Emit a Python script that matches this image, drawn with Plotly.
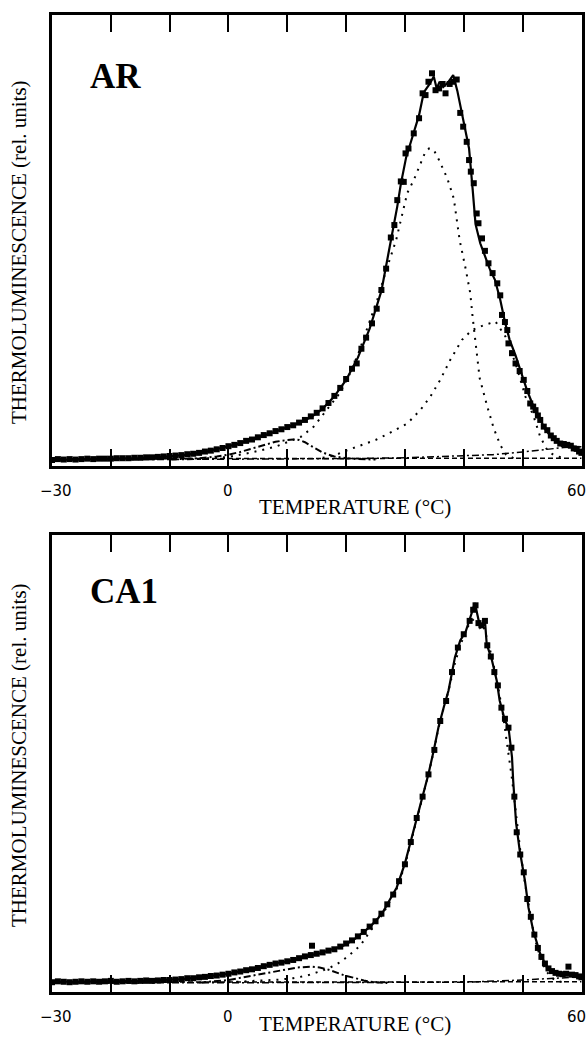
import plotly.graph_objects as go

# ---------------- AR sample ----------------
ar_meas_t = [-30, -29, -28, -27, -26, -25, -24, -23, -22, -21, -20, -19, -18, -17, -16, -15, -14, -13, -12, -11,
             -10, -9, -8, -7, -6, -5, -4, -3, -2, -1, 0, 1, 2, 3, 4, 5, 6, 7, 8, 9, 10, 11, 12, 13, 14, 15, 16,
             17, 18, 19, 20, 21, 21.8, 22.6, 23.4, 24.4, 25.2, 26, 26.8, 27.6, 28.2, 28.7, 29.3, 29.8, 30.1,
             30.6, 31.5, 32.4, 33, 33.5, 34, 34.6, 35.2, 35.8, 36.4, 36.9, 37.6, 38.2, 38.8, 39.4, 39.9, 40.5,
             40.9, 41.2, 41.7, 42.2, 42.5, 43.1, 43.6, 44.2, 44.9, 45.7, 46.2, 46.5, 47, 47.4, 47.6, 48.2, 48.8,
             49.5, 50.2, 50.8, 51.3, 51.8, 52.2, 52.6, 53, 53.6, 54.2, 54.8, 55.3, 55.8, 56.4, 57, 57.6, 58.2,
             58.7, 59.2, 59.6, 60]
ar_meas_v = [0.0, 0.002, 0.001, 0.002, 0.001, 0.002, 0.003, 0.002, 0.003, 0.003, 0.003, 0.004, 0.004, 0.004,
             0.005, 0.005, 0.006, 0.006, 0.007, 0.008, 0.009, 0.010, 0.011, 0.013, 0.014, 0.016, 0.019, 0.021,
             0.024, 0.027, 0.031, 0.034, 0.038, 0.043, 0.046, 0.051, 0.056, 0.060, 0.065, 0.069, 0.074, 0.078,
             0.084, 0.090, 0.098, 0.106, 0.116, 0.128, 0.144, 0.162, 0.182, 0.205, 0.217, 0.250, 0.275, 0.307,
             0.340, 0.382, 0.430, 0.500, 0.528, 0.584, 0.626, 0.625, 0.689, 0.700, 0.734, 0.768, 0.824, 0.820,
             0.850, 0.869, 0.831, 0.835, 0.845, 0.824, 0.845, 0.850, 0.855, 0.780, 0.749, 0.715, 0.674, 0.648,
             0.622, 0.554, 0.532, 0.498, 0.470, 0.442, 0.420, 0.397, 0.370, 0.326, 0.310, 0.292, 0.262, 0.240,
             0.217, 0.200, 0.180, 0.155, 0.127, 0.120, 0.112, 0.100, 0.090, 0.075, 0.067, 0.055, 0.049, 0.043,
             0.037, 0.036, 0.034, 0.032, 0.026, 0.025, 0.019, 0.016]

ar_fit_t = [-30, -25, -20, -15, -10, -7, -4, -2, 0, 2, 4, 6, 8, 10, 12, 14, 16, 18, 20, 22, 24, 26, 27.6, 28.7,
            29.3, 30.2, 31.5, 32.4, 33.2, 34.2, 34.9, 35.4, 35.9, 36.5, 37.3, 38.2, 38.9, 39.5, 40.2, 40.9,
            41.5, 42.0, 42.8, 43.6, 44.4, 45.3, 46.2, 47.0, 47.8, 48.8, 49.8, 50.8, 51.8, 52.8, 53.8, 54.8,
            55.8, 56.8, 57.8, 58.8, 59.8, 60.1]
ar_fit_v = [0.0, 0.001, 0.002, 0.004, 0.008, 0.012, 0.018, 0.024, 0.031, 0.038, 0.046, 0.055, 0.064, 0.073,
            0.083, 0.096, 0.115, 0.143, 0.180, 0.230, 0.295, 0.380, 0.490, 0.570, 0.620, 0.680, 0.736, 0.775,
            0.826, 0.845, 0.862, 0.835, 0.850, 0.838, 0.848, 0.865, 0.830, 0.790, 0.750, 0.700, 0.610, 0.530,
            0.487, 0.460, 0.430, 0.405, 0.360, 0.310, 0.270, 0.235, 0.195, 0.155, 0.122, 0.095, 0.070, 0.053,
            0.042, 0.037, 0.033, 0.029, 0.016, 0.012]

# resolved glow peaks
ar_p1_t = [-10, -5, -2, 0, 2, 4, 6, 8, 10, 11, 12, 13, 14, 15, 16, 17, 18, 20, 22, 25]
ar_p1_v = [0.001, 0.004, 0.008, 0.012, 0.018, 0.026, 0.034, 0.041, 0.045, 0.046, 0.045, 0.040, 0.032, 0.024,
           0.017, 0.012, 0.008, 0.004, 0.002, 0.001]

ar_p2_t = [-5, 0, 4, 8, 10, 12.3, 14.5, 16.2, 18.9, 20.5, 22.1, 23.7, 25.3, 26.9, 28.5, 29.5, 30.4, 31.5, 32.6,
           33.4, 34.1, 34.9, 35.8, 36.6, 37.2, 38.3, 39.3, 40.3, 41.1, 41.5, 42.0, 42.7, 44.0, 45.1, 46.2,
           47.2, 48.5]
ar_p2_v = [0.002, 0.007, 0.017, 0.030, 0.040, 0.052, 0.075, 0.105, 0.150, 0.190, 0.240, 0.300, 0.360, 0.430,
           0.494, 0.550, 0.600, 0.629, 0.667, 0.690, 0.700, 0.697, 0.674, 0.652, 0.633, 0.588, 0.494, 0.431,
           0.375, 0.322, 0.262, 0.184, 0.120, 0.071, 0.034, 0.012, 0.004]

ar_p3_t = [16, 18, 19.6, 22, 25, 27, 29.3, 30.4, 32.6, 34.3, 36, 37.7, 39.7, 41.4, 43.4, 45.4, 47.1, 48.8,
           50.5, 51.9, 53, 54.2, 55.3, 57]
ar_p3_v = [0.005, 0.010, 0.019, 0.030, 0.045, 0.058, 0.075, 0.082, 0.112, 0.142, 0.180, 0.225, 0.270, 0.292,
           0.303, 0.311, 0.277, 0.217, 0.142, 0.097, 0.052, 0.022, 0.011, 0.004]

ar_p4_t = [-30, 0, 10, 20, 30, 40, 45, 50, 54, 57, 60]
ar_p4_v = [0.0, 0.001, 0.002, 0.003, 0.005, 0.009, 0.012, 0.018, 0.024, 0.028, 0.030]

ar_base_t = [-30, 60]
ar_base_v = [0.003, 0.004]

# ---------------- CA1 sample ----------------
ca_meas_t = [-30, -29, -28, -27, -26, -25, -24, -23, -22, -21, -20, -19, -18, -17, -16, -15, -14, -13, -12, -11,
             -10, -9, -8, -7, -6, -5, -4, -3, -2, -1, 0, 1, 2, 3, 4, 5, 6, 7, 8, 9, 10, 11, 12, 13, 14, 14.2,
             15, 16, 17, 18, 19, 20, 21, 22, 23, 24, 25, 26, 27, 28, 29, 30, 31, 32, 33, 34, 35, 36, 37, 38,
             39, 40, 41, 41.6, 42, 42.5, 43, 43.6, 44, 44.6, 45.2, 45.8, 46.4, 47, 47.6, 48.1, 48.6, 49, 49.6,
             50.2, 50.8, 51.4, 52, 52.6, 53.2, 53.8, 54.4, 55, 55.6, 56.2, 56.8, 57.4, 57.8, 58.4, 59, 59.6, 60]
ca_meas_v = [0.003, 0.005, 0.004, 0.003, 0.004, 0.005, 0.004, 0.005, 0.004, 0.005, 0.006, 0.004, 0.005, 0.006,
             0.005, 0.006, 0.007, 0.006, 0.007, 0.008, 0.008, 0.009, 0.010, 0.012, 0.012, 0.014, 0.015, 0.017,
             0.018, 0.020, 0.022, 0.025, 0.027, 0.030, 0.032, 0.035, 0.039, 0.042, 0.045, 0.047, 0.050, 0.053,
             0.057, 0.061, 0.064, 0.085, 0.067, 0.070, 0.074, 0.077, 0.083, 0.090, 0.097, 0.106, 0.116, 0.128,
             0.140, 0.157, 0.178, 0.200, 0.230, 0.268, 0.318, 0.372, 0.420, 0.470, 0.525, 0.590, 0.635, 0.700,
             0.755, 0.785, 0.815, 0.840, 0.850, 0.810, 0.805, 0.815, 0.760, 0.735, 0.700, 0.670, 0.620, 0.595,
             0.575, 0.530, 0.420, 0.340, 0.290, 0.250, 0.190, 0.150, 0.110, 0.080, 0.060, 0.045, 0.034, 0.028,
             0.024, 0.022, 0.021, 0.022, 0.038, 0.020, 0.019, 0.016, 0.014]

ca_fit_t = [-30, -25, -20, -15, -10, -8, -5, -2, 0, 3, 5.6, 7.1, 10.1, 11.7, 14, 15.6, 17.2, 18.5, 19.5, 21.3,
            22.7, 24.1, 25.5, 26.4, 27.5, 28.6, 30, 31, 32, 33, 34, 34.9, 35.7, 36.6, 37.4, 38.5, 39.4, 40.3,
            40.8, 41.4, 41.9, 42.3, 42.8, 43.3, 43.6, 43.9, 44.8, 45.6, 46.1, 47, 47.6, 48.2, 48.4, 48.9, 49.5,
            50.4, 51, 51.8, 53, 54.1, 55.8, 58.1, 59.8, 60.1]
ca_fit_v = [0.004, 0.004, 0.005, 0.006, 0.008, 0.010, 0.014, 0.018, 0.022, 0.030, 0.037, 0.044, 0.050, 0.055,
            0.064, 0.068, 0.075, 0.079, 0.085, 0.098, 0.112, 0.128, 0.148, 0.164, 0.190, 0.216, 0.270, 0.320,
            0.370, 0.420, 0.471, 0.524, 0.576, 0.621, 0.658, 0.733, 0.771, 0.790, 0.812, 0.835, 0.855, 0.830,
            0.800, 0.805, 0.816, 0.763, 0.726, 0.681, 0.636, 0.591, 0.576, 0.509, 0.456, 0.360, 0.300, 0.231,
            0.171, 0.119, 0.067, 0.037, 0.022, 0.020, 0.014, 0.013]

ca_p1_t = [-5, 0, 5, 8.8, 11.7, 14, 15.5, 16.8, 18.5, 20, 21.3, 23, 24.7, 27]
ca_p1_v = [0.002, 0.008, 0.020, 0.030, 0.036, 0.038, 0.036, 0.032, 0.024, 0.017, 0.013, 0.007, 0.003, 0.001]

ca_p2_t = [0, 5, 8.8, 11, 13.4, 15, 16.8, 18.5, 20.2, 22.4, 24.1, 25.5, 26.4, 27.5, 28.6, 30, 31, 32, 33, 34,
           34.9, 35.7, 36.6, 37.4, 38.5, 39.4, 40.3, 41, 41.8, 42.6, 43.4, 44.2, 45, 45.8, 46.6, 47.4, 48.2,
           48.9, 49.6, 50.4, 51.2, 52, 53, 54, 55, 56, 57.5]
ca_p2_v = [0.003, 0.006, 0.009, 0.012, 0.018, 0.025, 0.033, 0.044, 0.060, 0.085, 0.118, 0.142, 0.160, 0.186,
           0.213, 0.266, 0.317, 0.368, 0.418, 0.470, 0.522, 0.574, 0.620, 0.657, 0.720, 0.760, 0.790, 0.810,
           0.820, 0.815, 0.800, 0.765, 0.720, 0.670, 0.610, 0.540, 0.460, 0.380, 0.300, 0.225, 0.160, 0.105,
           0.058, 0.028, 0.012, 0.005, 0.002]

ca_p4_t = [-30, 0, 20, 40, 50, 55, 58, 60]
ca_p4_v = [0.001, 0.002, 0.002, 0.003, 0.008, 0.012, 0.015, 0.015]

ca_base_t = [-30, 60]
ca_base_v = [0.003, 0.004]

tick_vals = [-30, -20, -10, 0, 10, 20, 30, 40, 50, 60]
label_vals = [-30, 0, 60]
label_text = ["\u221230", "0", "60"]
label_shift = [4, 0, -5]

W, H = 587, 1038
X_DOM = [52 / W, 582 / W]
X_RANGE = [-30, 60.1]
Y1_DOM = [1 - 466 / H, 1 - 15 / H]
Y1_RANGE = [-0.0135, 1.0]
Y2_DOM = [1 - 992 / H, 1 - 535 / H]
Y2_RANGE = [-0.019, 1.008]

DOT = "2px,6px"
DASHDOT = "7px,3px,2px,3px"

fig = go.Figure()


def add_panel(xa, ya, meas_t, meas_v, fit_t, fit_v, peaks, tail, base):
    for (pt, pv, style) in peaks:
        fig.add_trace(go.Scatter(x=pt, y=pv, mode="lines", xaxis=xa, yaxis=ya,
                                 line=dict(color="black", width=2, dash=style)))
    fig.add_trace(go.Scatter(x=tail[0], y=tail[1], mode="lines", xaxis=xa, yaxis=ya,
                             line=dict(color="black", width=1.5, dash=DASHDOT)))
    fig.add_trace(go.Scatter(x=base[0], y=base[1], mode="lines", xaxis=xa, yaxis=ya,
                             line=dict(color="black", width=1.5, dash="5px,3px")))
    fig.add_trace(go.Scatter(x=meas_t, y=meas_v, mode="markers", xaxis=xa, yaxis=ya,
                             marker=dict(symbol="square", size=6, color="black")))
    fig.add_trace(go.Scatter(x=fit_t, y=fit_v, mode="lines", xaxis=xa, yaxis=ya,
                             line=dict(color="black", width=2.2)))


add_panel("x", "y", ar_meas_t, ar_meas_v, ar_fit_t, ar_fit_v,
          [(ar_p1_t, ar_p1_v, DASHDOT), (ar_p2_t, ar_p2_v, DOT), (ar_p3_t, ar_p3_v, DOT)],
          (ar_p4_t, ar_p4_v), (ar_base_t, ar_base_v))
add_panel("x2", "y2", ca_meas_t, ca_meas_v, ca_fit_t, ca_fit_v,
          [(ca_p1_t, ca_p1_v, DASHDOT), (ca_p2_t, ca_p2_v, DOT)],
          (ca_p4_t, ca_p4_v), (ca_base_t, ca_base_v))


def x_main(anchor):
    return dict(domain=X_DOM, range=X_RANGE, anchor=anchor, showline=True, linewidth=2.5,
                linecolor="black", mirror="ticks", ticks="inside", ticklen=17, tickwidth=2,
                tickcolor="black", tickvals=tick_vals, showticklabels=False, automargin=False,
                showgrid=False, zeroline=False)


def x_long(base, anchor):
    return dict(overlaying=base, range=X_RANGE, anchor=anchor, showline=False, mirror="ticks",
                ticks="inside", ticklen=42, tickwidth=2, tickcolor="black", tickvals=[0],
                showticklabels=False, automargin=False, showgrid=False, zeroline=False)


def y_main(dom, rng, anchor):
    return dict(domain=dom, range=rng, anchor=anchor, showline=True, linewidth=2.5, linecolor="black",
                mirror=True, ticks="", showticklabels=False, automargin=False, showgrid=False,
                zeroline=False)


serif = "Liberation Serif"
annotations = []
panels = [("x", 491, 507, 252, "AR", 76), ("x2", 1017, 1024, 755, "CA1", 591)]
for xref, y_tick, y_title, y_mid, name, name_y in panels:
    for v, t, s in zip(label_vals, label_text, label_shift):
        annotations.append(dict(text=t, x=v, xref=xref, y=1 - y_tick / H, yref="paper", xshift=s,
                                showarrow=False, xanchor="center", yanchor="middle",
                                font=dict(family="DejaVu Sans", size=15, color="black")))
    annotations.append(dict(text="TEMPERATURE (\u00b0C)", x=355 / W, y=1 - y_title / H, xref="paper",
                            yref="paper", showarrow=False, xanchor="center", yanchor="middle",
                            font=dict(family=serif, size=21, color="black")))
    annotations.append(dict(text="THERMOLUMINESCENCE (rel. units)", x=19 / W, y=1 - y_mid / H,
                            xref="paper", yref="paper", showarrow=False, textangle=-90,
                            xanchor="center", yanchor="middle",
                            font=dict(family=serif, size=21, color="black")))
    annotations.append(dict(text="<b>%s</b>" % name, x=88 / W, y=1 - name_y / H, xref="paper",
                            yref="paper", showarrow=False, xanchor="left", yanchor="middle",
                            font=dict(family=serif, size=35, color="black")))

fig.update_layout(
    template="none",
    width=W, height=H, margin=dict(l=0, r=0, t=0, b=0, autoexpand=False),
    plot_bgcolor="white", paper_bgcolor="white", showlegend=False,
    xaxis=x_main("y"), yaxis=y_main(Y1_DOM, Y1_RANGE, "x"),
    xaxis2=x_main("y2"), yaxis2=y_main(Y2_DOM, Y2_RANGE, "x2"),
    xaxis3=x_long("x", "y"), xaxis4=x_long("x2", "y2"),
    annotations=annotations,
)

fig.write_html("out.html")
